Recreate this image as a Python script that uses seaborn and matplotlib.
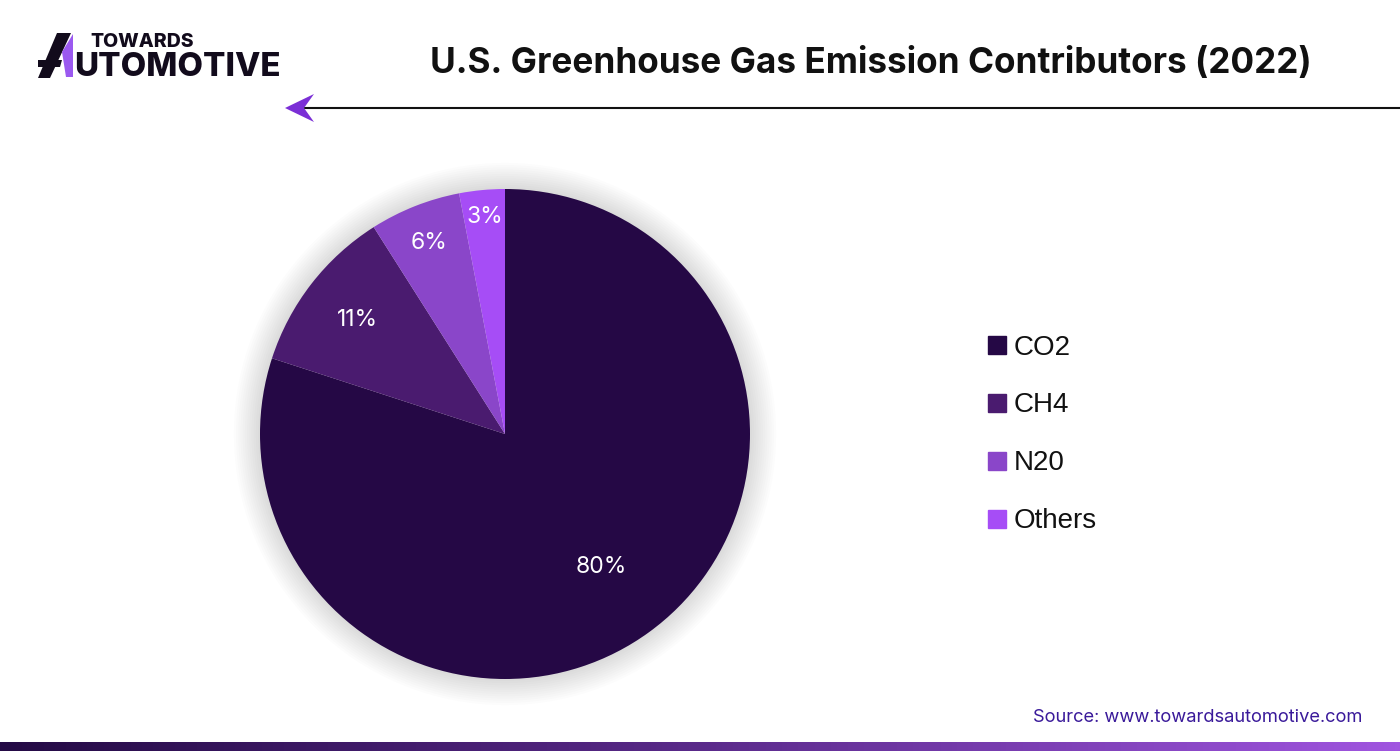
import numpy as np
import matplotlib
matplotlib.use("Agg")
import matplotlib.pyplot as plt
import seaborn as sns
from matplotlib.patches import Polygon, Circle
from matplotlib.colors import LinearSegmentedColormap

# data
gases = ["CO2", "CH4", "N20", "Others"]
shares = [80, 11, 6, 3]
colors = ["#250845", "#4a1b6f", "#8a46c9", "#a64df6"]
label_dist = [0.67, 0.76, 0.84, 0.89]

sns.set_theme(style="white")
plt.rcParams["font.family"] = ["Inter", "DejaVu Sans"]

fig = plt.figure(figsize=(14, 7.51), dpi=100)
fig.patch.set_facecolor("white")

# overlay in pixel coords for decoration
deco = fig.add_axes([0, 0, 1, 1])
deco.set_xlim(0, 1400)
deco.set_ylim(751, 0)
deco.axis("off")

# soft glow behind the pie
for i in range(12):
    deco.add_patch(Circle((505, 434), 245 + 2 + i * 2.2, color="#000000",
                          alpha=0.011, lw=0, zorder=0))

# pie
cx, cy, r = 505, 434, 245
ax = fig.add_axes([(cx - r) / 1400, (751 - cy - r) / 751, 2 * r / 1400, 2 * r / 751])
wedges, _ = ax.pie(shares, colors=colors, startangle=90, counterclock=False,
                   wedgeprops=dict(linewidth=0))
ax.set_xlim(-1, 1)
ax.set_ylim(-1, 1)
ax.axis("off")
for w, s, d in zip(wedges, shares, label_dist):
    ang = np.deg2rad((w.theta1 + w.theta2) / 2)
    ax.text(d * np.cos(ang), d * np.sin(ang), f"{s}%", color="white",
            fontsize=16.5, ha="center", va="center")

# legend
handles = [plt.Rectangle((0, 0), 1, 1, color=c) for c in colors]
fig.legend(handles, gases, loc="center left", bbox_to_anchor=(0.698, 0.4215),
           frameon=False, handlelength=0.62, handleheight=0.62,
           handletextpad=0.3, labelspacing=1.15, borderaxespad=0,
           labelcolor="#111111",
           prop={"family": "Liberation Sans", "size": 20})

# title
deco.text(871, 63, "U.S. Greenhouse Gas Emission Contributors (2022)",
          fontsize=25.3, fontweight="bold", ha="center", va="center", color="#111111")

# arrow line
deco.plot([305, 1400], [108, 108], color="#111111", lw=1.5)
deco.add_patch(Polygon([(285, 108), (314, 94), (304, 108), (314, 122)],
                       closed=True, color="#7b2fd6", lw=0))

# logo
deco.add_patch(Polygon([(57, 33), (71, 33), (50, 78), (38, 78)], closed=True,
                       color="#120b1c", lw=0))
deco.add_patch(Polygon([(38, 60), (62, 60), (60, 67), (38, 67)], closed=True,
                       color="#120b1c", lw=0))
deco.add_patch(Polygon([(62, 52), (73, 34), (73, 77), (66, 77)], closed=True,
                       color="#9b59f0", lw=0))
deco.text(90, 42, "TOWARDS", fontsize=14, fontweight="heavy", va="center",
          ha="left", color="#120b1c")
deco.text(74, 67, "UTOMOTIVE", fontsize=23.8, fontweight="heavy", va="center",
          ha="left", color="#120b1c")

# source
deco.text(1362, 718, "Source: www.towardsautomotive.com", fontsize=13.2,
          ha="right", va="center", color="#3a1a9a")

# bottom gradient bar
bar = fig.add_axes([0, 0, 1, 9 / 751])
cmap = LinearSegmentedColormap.from_list("g", ["#240a45", "#5a2a8a", "#a055e0"])
bar.imshow(np.linspace(0, 1, 256)[None, :], aspect="auto", cmap=cmap)
bar.axis("off")

fig.savefig("out.png", dpi=100, facecolor="white")
